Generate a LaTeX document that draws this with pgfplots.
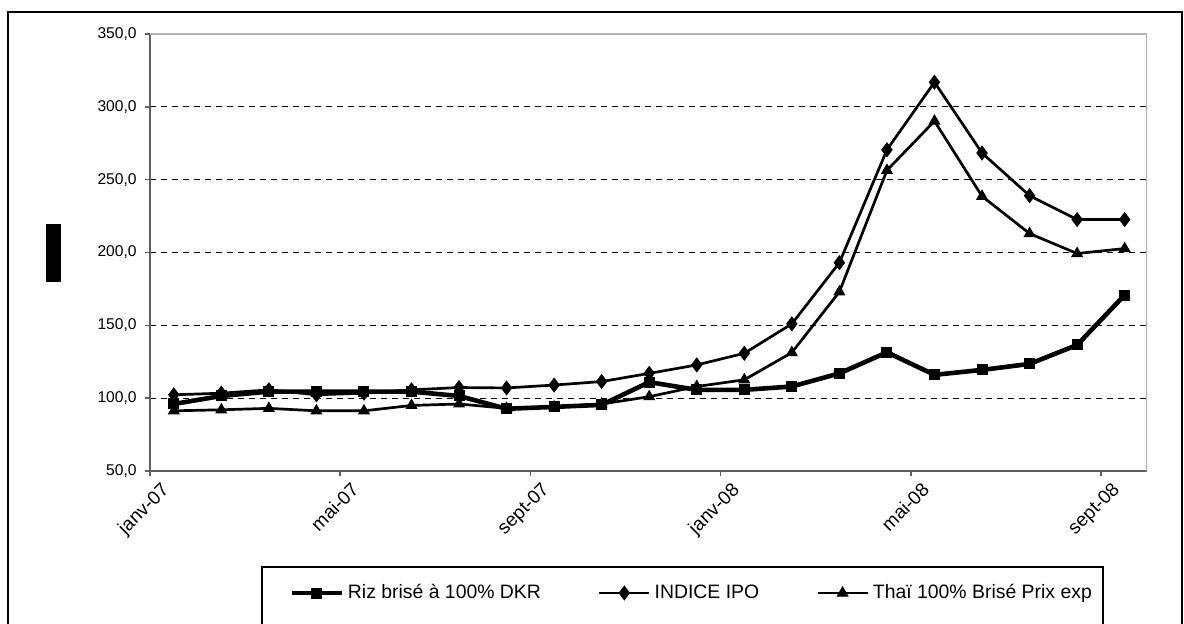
\documentclass[border=0pt]{standalone}
\usepackage{fontspec}
\setmainfont{Liberation Sans}
\usepackage{pgfplots}
\pgfplotsset{compat=1.18}
\usepackage{pgfplotstable}

% mois depuis janv-07 (points au milieu du mois)
\pgfplotstableread{
x    riz    ipo    thai
0.5  96.0   102.3  91.3
1.5  101.5  103.4  92.0
2.5  104.5  105.7  93.0
3.5  104.5  102.3  91.3
4.5  104.5  103.4  91.3
5.5  104.5  105.7  95.0
6.5  101.5  107.3  96.0
7.5  92.7   107.0  93.0
8.5  94.0   109.0  94.0
9.5  95.4   111.4  96.0
10.5 111.0  117.0  101.0
11.5 105.7  122.8  108.0
12.5 105.7  130.8  112.6
13.5 108.0  151.0  131.3
14.5 117.0  193.0  173.0
15.5 131.5  270.5  256.4
16.5 116.0  316.9  290.2
17.5 119.4  268.3  238.6
18.5 123.5  239.0  213.0
19.5 136.5  222.6  199.3
20.5 170.8  222.6  202.7
}\prix

\definecolor{axe}{HTML}{606060}
\definecolor{bord}{HTML}{B4B4B4}

\begin{document}
\begin{tikzpicture}
\begin{axis}[
    at={(75pt,76.5pt)}, anchor=south west,
    scale only axis,
    width=498.5pt, height=218.5pt,
    xmin=0, xmax=20.97,
    ymin=50, ymax=350,
    axis lines=left,
    axis line style={-, axe, line width=1pt},
    tick align=outside,
    major tick length=2.5pt,
    tick style={axe, line width=0.8pt},
    xtick={0,4,8,12,16,20},
    xticklabels={janv-07, mai-07, sept-07, janv-08, mai-08, sept-08},
    xticklabel style={xshift=5pt, yshift=-1pt, rotate=45, anchor=north east,
        inner sep=1pt, font=\fontsize{9.5}{10}\selectfont},
    ytick={50,100,...,350},
    yticklabel style={font=\fontsize{7.8}{8}\selectfont, inner sep=1pt,
        xshift=-3pt,
        /pgf/number format/.cd, fixed, fixed zerofill, precision=1,
        use comma, 1000 sep={}, assume math mode=true},
    ymajorgrids,
    grid style={black, line width=0.5pt, dash pattern=on 3pt off 2.5pt},
    legend columns=3,
    legend style={at={(axis description cs:0.1394,-0.2792)}, anchor=west,
        draw=none, fill=none, inner sep=0pt,
        nodes={inner sep=0pt, anchor=west, font=\fontsize{9.7}{11}\selectfont},
        /tikz/every odd column/.append style={column sep=2pt},
        /tikz/every even column/.append style={column sep=28.5pt}},
    legend image code/.code={
        \draw[mark repeat=2, mark phase=2, #1]
            plot coordinates {(0pt,0pt) (12.5pt,0pt) (25pt,0pt)};},
]
\addplot[black, line width=2.3pt, mark=square*, mark size=2.5pt,
    mark options={solid, line width=0.5pt}] table[x=x, y=riz] {\prix};
\addlegendentry{Riz brisé à 100\% DKR}
\addplot[black, line width=1.35pt, mark=diamond*, mark size=3.4pt,
    mark options={solid, line width=0.5pt}] table[x=x, y=ipo] {\prix};
\addlegendentry{INDICE IPO}
\addplot[black, line width=1.35pt, mark=triangle*, mark size=3pt,
    mark options={solid, line width=0.5pt}] table[x=x, y=thai] {\prix};
\addlegendentry{Thaï 100\% Brisé Prix exp}
\draw[bord, line width=1pt] (rel axis cs:0,1) -- (rel axis cs:1,1) -- (rel axis cs:1,0);
\end{axis}
% cadre du graphique et de la légende
\draw[line width=0.75pt] (4pt,-10pt) rectangle (591pt,306pt);
\draw[line width=0.7pt] (131pt,-10pt) |- (551.5pt,28.5pt) -- (551.5pt,-10pt);
\fill[black] (23pt,171pt) rectangle (30.5pt,200pt);
\pgfresetboundingbox
\path[use as bounding box] (0,0) rectangle (592pt,312pt);
\end{tikzpicture}
\end{document}
